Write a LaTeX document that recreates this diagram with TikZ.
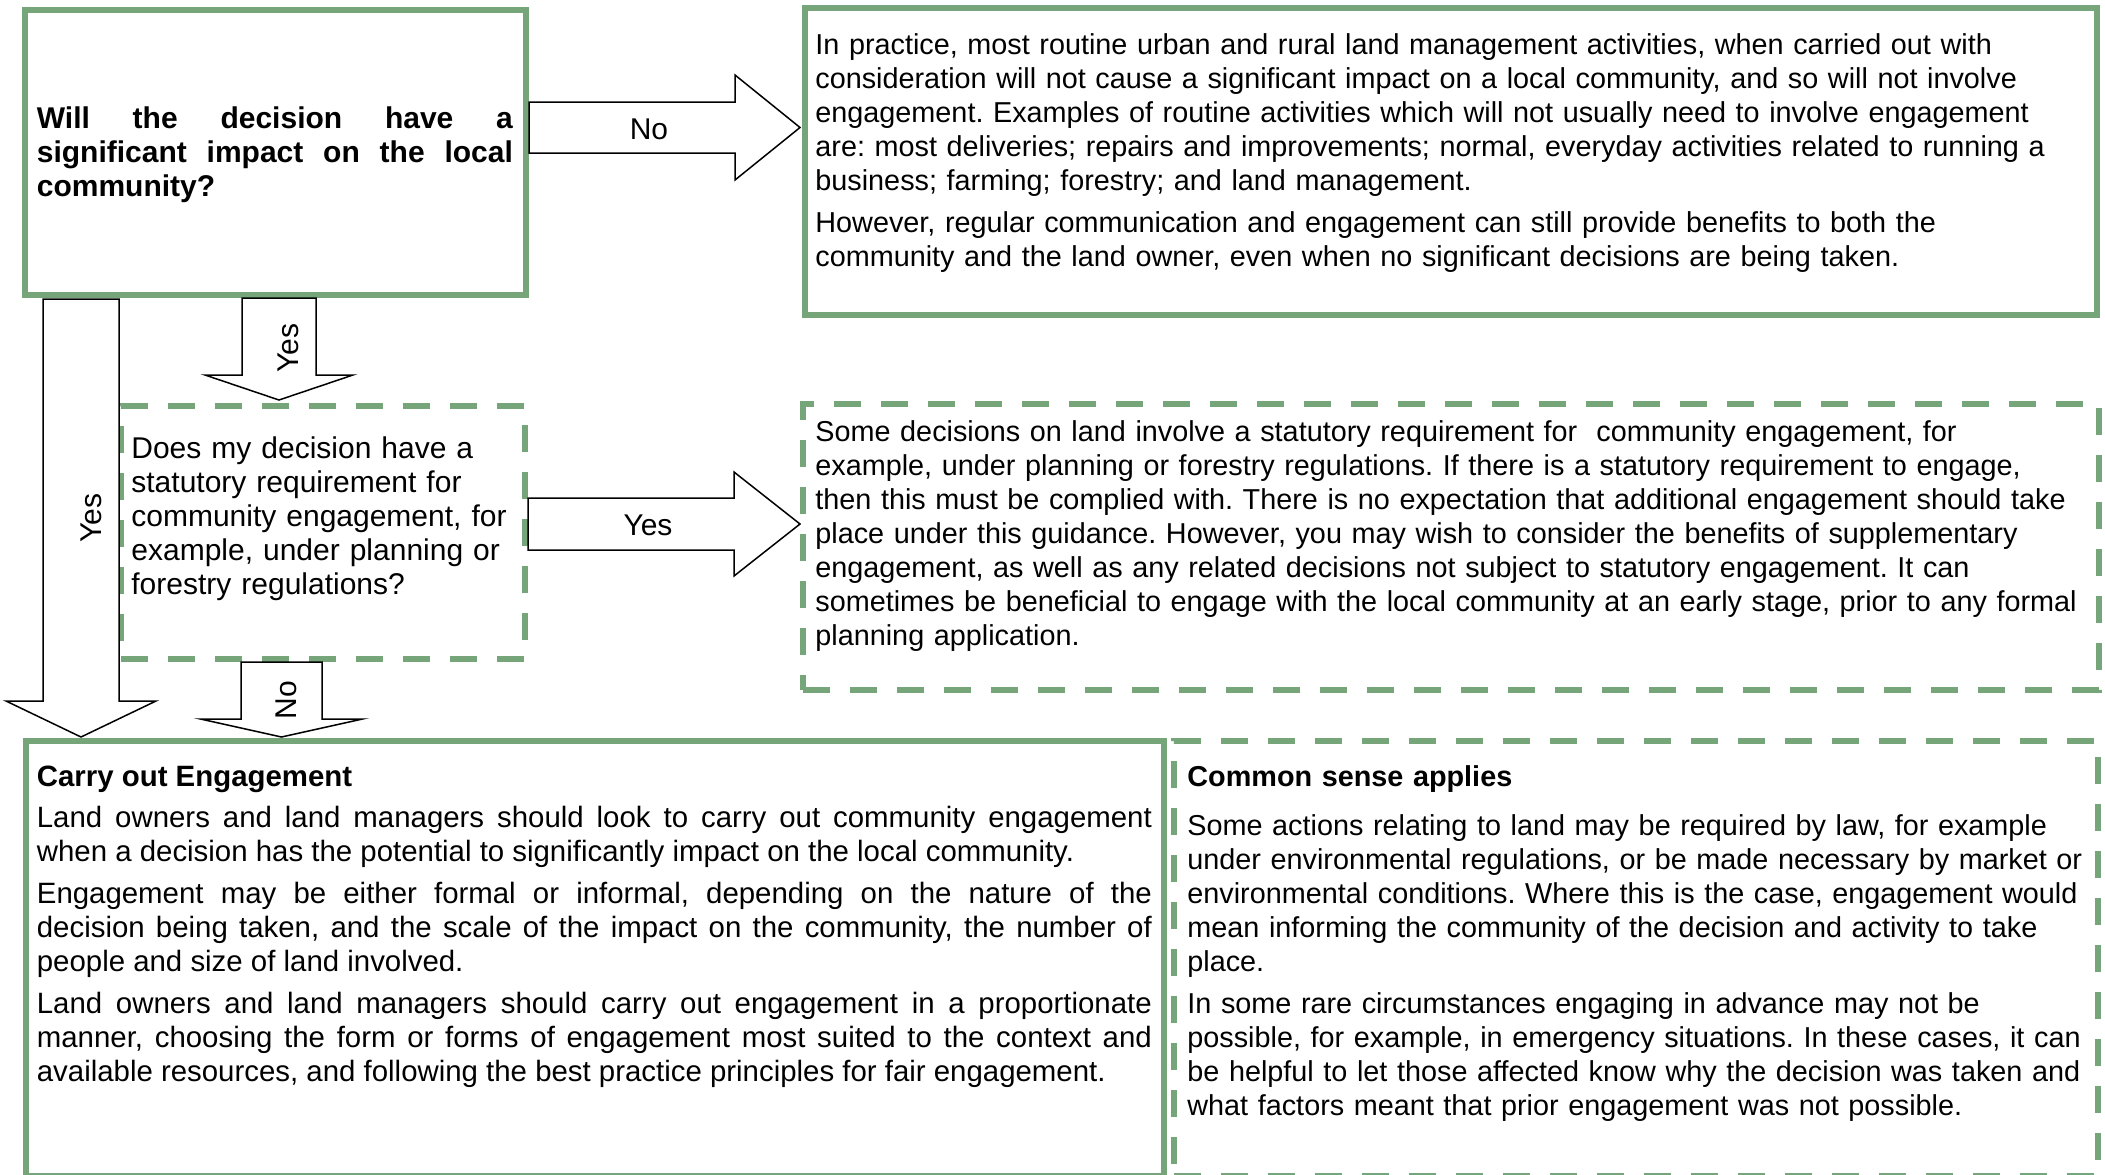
\documentclass[tikz,border=0pt]{standalone}
\usepackage{fontspec}
\setmainfont{Liberation Sans}
\usetikzlibrary{calc}
\definecolor{boxgreen}{RGB}{118,165,122}
\frenchspacing

% block arrows: tail, tip, half body, half head, head length
\newcommand{\flowright}[5]{%
  \draw[blockarrow] ($(#1)+(0,-#3)$) -- ($(#2)+(-#5,-#3)$) -- ($(#2)+(-#5,-#4)$) -- (#2)
    -- ($(#2)+(-#5,#4)$) -- ($(#2)+(-#5,#3)$) -- ($(#1)+(0,#3)$) -- cycle;}
\newcommand{\flowdown}[5]{%
  \draw[blockarrow] ($(#1)+(-#3,0)$) -- ($(#2)+(-#3,-#5)$) -- ($(#2)+(-#4,-#5)$) -- (#2)
    -- ($(#2)+(#4,-#5)$) -- ($(#2)+(#3,-#5)$) -- ($(#1)+(#3,0)$) -- cycle;}

\begin{document}
\begin{tikzpicture}[x=0.5pt, y=-0.5pt,
    box/.style={draw=boxgreen, line width=3.25pt, inner sep=0pt},
    dashbox/.style={box, dash pattern=on 13.5pt off 10pt},
    txt/.style={anchor=north west, inner sep=0pt, align=left,
      font=\fontsize{#1}{17}\selectfont, execute at begin node=\strut},
    txt/.default=15,
    blockarrow/.style={draw=black, line width=0.75pt, fill=white},
    lbl/.style={inner sep=0pt, font=\fontsize{15}{17}\selectfont}]
\useasboundingbox (0,0) rectangle (2105,1174);

% boxes
\node[box, minimum width=250.5pt, minimum height=142.5pt] (q1) at (275.5,152.5) {};
\node[box, minimum width=646pt, minimum height=153.5pt] (n1) at (1451,161.5) {};
\node[dashbox, minimum width=202pt, minimum height=126.5pt] (q2) at (323,532.5) {};
\node[dashbox, minimum width=648pt, minimum height=143pt] (s1) at (1451,547) {};
\node[box, minimum width=569pt, minimum height=217.5pt] (e1) at (595,958.5) {};
\node[dashbox, minimum width=462pt, minimum height=217.5pt] (c1) at (1636,958.5) {};

% texts
\node[txt, text width=238pt, align=justify, font=\fontsize{15}{17}\selectfont\bfseries] (q1t) at (36.5,104)
  {Will the decision have a\linebreak significant impact on the local\linebreak community?};
\node[txt=14.4, text width=636pt] (n1t) at (815,30.7)
  {In practice, most routine urban and rural land management activities, when carried out with\\
   consideration will not cause a significant impact on a local community, and so will not involve\\
   engagement. Examples of routine activities which will not usually need to involve engagement\\
   are: most deliveries; repairs and improvements; normal, everyday activities related to running a\\
   business; farming; forestry; and land management.\\[3.8pt]
   However, regular communication and engagement can still provide benefits to both the\\
   community and the land owner, even when no significant decisions are being taken.};
\node[txt, text width=196pt] (q2t) at (131,434)
  {Does my decision have a\\ statutory requirement for\\ community engagement, for\\
   example, under planning or\\ forestry regulations?};
\node[txt=14.4, text width=638pt] (s1t) at (815,417)
  {Some decisions on land involve a statutory requirement for\ \ community engagement, for\\
   example, under planning or forestry regulations. If there is a statutory requirement to engage,\\
   then this must be complied with. There is no expectation that additional engagement should take\\
   place under this guidance. However, you may wish to consider the benefits of supplementary\\
   engagement, as well as any related decisions not subject to statutory engagement. It can\\
   sometimes be beneficial to engage with the local community at an early stage, prior to any formal\\
   planning application.};
\node[txt=14.7, text width=557.5pt, align=justify] (e1t) at (36.5,762)
  {\textbf{Carry out Engagement}\\[3.8pt]
   Land owners and land managers should look to carry out community engagement\linebreak
   when a decision has the potential to significantly impact on the local community.\\[3.8pt]
   Engagement may be either formal or informal, depending on the nature of the\linebreak
   decision being taken, and the scale of the impact on the community, the number of\linebreak
   people and size of land involved.\\[3.8pt]
   Land owners and land managers should carry out engagement in a proportionate\linebreak
   manner, choosing the form or forms of engagement most suited to the context and\linebreak
   available resources, and following the best practice principles for fair engagement.};
\node[txt=14.4, text width=455pt] (c1t) at (1187,762)
  {\textbf{Common sense applies}\\[7.5pt]
   Some actions relating to land may be required by law, for example\\
   under environmental regulations, or be made necessary by market or\\
   environmental conditions. Where this is the case, engagement would\\
   mean informing the community of the decision and activity to take\\
   place.\\[4pt]
   In some rare circumstances engaging in advance may not be\\
   possible, for example, in emergency situations. In these cases, it can\\
   be helpful to let those affected know why the decision was taken and\\
   what factors meant that prior engagement was not possible.};

% connectors
\coordinate (a1s) at (529,127.5);   \coordinate (a1e) at (800,127.5);
\coordinate (a2s) at (279,298);     \coordinate (a2e) at (279,400);
\coordinate (a3s) at (81,299);      \coordinate (a3e) at (81,737);
\coordinate (a4s) at (528,524);     \coordinate (a4e) at (800,524);
\coordinate (a5s) at (281.5,662);   \coordinate (a5e) at (281.5,737);
\flowright{a1s}{a1e}{25.5}{52.5}{65}
\flowdown{a2s}{a2e}{37}{74}{25}
\flowdown{a3s}{a3e}{38}{75}{36}
\flowright{a4s}{a4e}{26}{52}{66}
\flowdown{a5s}{a5e}{40.5}{81}{18}

% labels
\node[lbl] (l1) at (649,129.5) {No};
\node[lbl, rotate=90] (l2) at (288,348) {Yes};
\node[lbl, rotate=90] (l3) at (91,518) {Yes};
\node[lbl] (l4) at (648,525) {Yes};
\node[lbl, rotate=90] (l5) at (286,700) {No};
\end{tikzpicture}
\end{document}
